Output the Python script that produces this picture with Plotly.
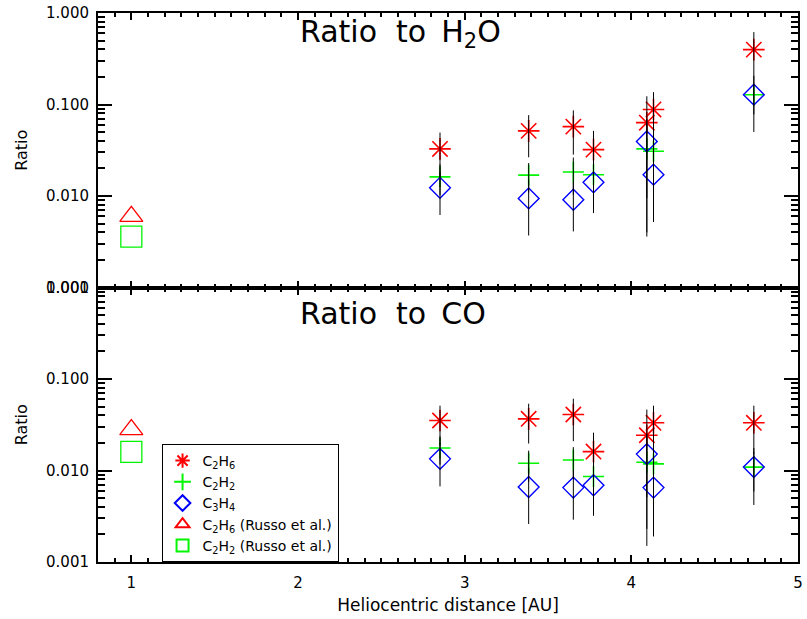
import plotly.graph_objects as go
from plotly.subplots import make_subplots

# ---------------- data ----------------
rh = [2.852, 3.384, 3.652, 3.773, 4.093, 4.133, 4.735]

h2o_c2h6 = [0.0327, 0.0515, 0.0573, 0.0321, 0.0633, 0.0883, 0.398]
h2o_c2h6_err = [0.0167, 0.025, 0.029, 0.0194, 0.0597, 0.048, 0.22]
h2o_c2h2 = [0.0162, 0.0169, 0.0183, 0.0171, 0.0327, 0.0308, 0.128]
h2o_c2h2_err = [0.006, 0.006, 0.008, 0.007, 0.0287, 0.0256, 0.078]
h2o_c3h4 = [0.0123, 0.0094, 0.0091, 0.0141, 0.0395, 0.0171, 0.128]
h2o_c3h4_err = [0.0061, 0.0057, 0.005, 0.0076, 0.03, 0.01, 0.05]

co_c2h6 = [0.0352, 0.0367, 0.0409, 0.0161, 0.0243, 0.0332, 0.0332]
co_c2h6_err = [0.0159, 0.017, 0.02, 0.0098, 0.022, 0.0179, 0.0179]
co_c2h2 = [0.0176, 0.0120, 0.0130, 0.0086, 0.0123, 0.0118, 0.0109]
co_c2h2_err = [0.006, 0.0045, 0.005, 0.0045, 0.0108, 0.0099, 0.0067]
co_c3h4 = [0.0134, 0.0066, 0.0065, 0.0069, 0.0151, 0.0065, 0.0109]
co_c3h4_err = [0.0067, 0.004, 0.0036, 0.0037, 0.01, 0.004, 0.005]

russo_rh = [1.0]
russo_h2o_c2h6 = [0.0060]
russo_h2o_c2h2 = [0.0036]
russo_co_c2h6 = [0.028]
russo_co_c2h2 = [0.016]

y_tickvals = [0.001, 0.01, 0.1, 1.0]
y_ticktext = ["0.001", "0.010", "0.100", "1.000"]
x_tickvals = [1, 2, 3, 4, 5]

panel_titles = ["Ratio\u00a0\u00a0to\u2002H<sub>2</sub>O", "Ratio\u00a0\u00a0to\u2002CO"]
legend_names = ["C<sub>2</sub>H<sub>6</sub>", "C<sub>2</sub>H<sub>2</sub>", "C<sub>3</sub>H<sub>4</sub>",
                "C<sub>2</sub>H<sub>6</sub> (Russo et al.)", "C<sub>2</sub>H<sub>2</sub> (Russo et al.)"]

RED = "rgb(255,0,0)"
GREEN = "rgb(0,245,0)"
BLUE = "rgb(0,0,255)"
FONT = "DejaVu Sans"

fig = make_subplots(rows=2, cols=1, shared_xaxes=True, vertical_spacing=0)

panels = [
    (1, h2o_c2h6, h2o_c2h6_err, h2o_c2h2, h2o_c2h2_err, h2o_c3h4, h2o_c3h4_err, russo_h2o_c2h6, russo_h2o_c2h2),
    (2, co_c2h6, co_c2h6_err, co_c2h2, co_c2h2_err, co_c3h4, co_c3h4_err, russo_co_c2h6, russo_co_c2h2),
]

for row, c2h6, c2h6e, c2h2, c2h2e, c3h4, c3h4e, r6, r2 in panels:
    show = row == 1
    fig.add_trace(go.Scatter(x=russo_rh, y=r6, mode="markers", name=legend_names[3], showlegend=show,
                             legendrank=4,
                             marker=dict(symbol="triangle-up-open", size=20, color=RED,
                                         line=dict(color=RED, width=1.3))), row=row, col=1)
    fig.add_trace(go.Scatter(x=russo_rh, y=r2, mode="markers", name=legend_names[4], showlegend=show,
                             legendrank=5,
                             marker=dict(symbol="square-open", size=21, color=GREEN,
                                         line=dict(color=GREEN, width=1.3))), row=row, col=1)
    fig.add_trace(go.Scatter(x=rh, y=c2h6, mode="markers", name=legend_names[0], showlegend=show,
                             legendrank=1,
                             marker=dict(symbol="asterisk-open", size=18, color=RED,
                                         line=dict(color=RED, width=1.6))), row=row, col=1)
    fig.add_trace(go.Scatter(x=rh, y=c2h2, mode="markers", name=legend_names[1], showlegend=show,
                             legendrank=2,
                             marker=dict(symbol="cross-thin-open", size=15, color=GREEN,
                                         line=dict(color=GREEN, width=1.6))), row=row, col=1)
    fig.add_trace(go.Scatter(x=rh, y=c3h4, mode="markers", name=legend_names[2], showlegend=show,
                             legendrank=3,
                             marker=dict(symbol="diamond-open", size=16, color=BLUE,
                                         line=dict(color=BLUE, width=1.4))), row=row, col=1)
    # error bars drawn on top, in black
    for vals, errs in [(c2h6, c2h6e), (c2h2, c2h2e), (c3h4, c3h4e)]:
        fig.add_trace(go.Scatter(x=rh, y=vals, mode="markers", showlegend=False, hoverinfo="skip",
                                 marker=dict(size=1, color="rgba(0,0,0,0)"),
                                 error_y=dict(type="data", array=errs, visible=True,
                                              color="black", thickness=1, width=0)),
                      row=row, col=1)

axis_common = dict(showline=True, linecolor="black", linewidth=2, mirror="allticks",
                   ticks="inside", tickcolor="black", showgrid=False, zeroline=False,
                   tickfont=dict(family=FONT, size=15, color="black"))

for row in (1, 2):
    fig.update_xaxes(range=[0.8, 5], tickvals=x_tickvals, ticklen=7, tickwidth=2, ticklabelstandoff=6,
                     minor=dict(ticks="inside", dtick=0.1, ticklen=4, tickwidth=1.5, tickcolor="black"),
                     row=row, col=1, **axis_common)
    fig.update_yaxes(type="log", range=[-3, 0], tickvals=y_tickvals, ticktext=y_ticktext,
                     ticklen=14, tickwidth=2, ticklabelstandoff=4,
                     minor=dict(ticks="inside", ticklen=7, tickwidth=1.5, tickcolor="black",
                                tickvals=[m * 10 ** e for e in (-3, -2, -1) for m in range(2, 10)]),
                     title=dict(text="Ratio", font=dict(family=FONT, size=16, color="black"), standoff=14),
                     row=row, col=1, **axis_common)

fig.update_xaxes(showticklabels=False, row=1, col=1)
fig.update_xaxes(title=dict(text="Heliocentric distance [AU]", font=dict(family=FONT, size=17, color="black"),
                            standoff=8), row=2, col=1)

fig.add_annotation(text=panel_titles[0], xref="paper", yref="paper", x=0.285, y=0.9626,
                   xanchor="left", yanchor="middle", showarrow=False,
                   font=dict(family=FONT, size=30, color="black"))
fig.add_annotation(text=panel_titles[1], xref="paper", yref="paper", x=0.285, y=0.452,
                   xanchor="left", yanchor="middle", showarrow=False,
                   font=dict(family=FONT, size=30, color="black"))

fig.update_layout(
    width=807, height=619,
    margin=dict(l=98, r=4, t=6, b=57),
    paper_bgcolor="white", plot_bgcolor="white",
    font=dict(family=FONT, color="black"),
    legend=dict(x=0.0908, y=0, xanchor="left", yanchor="bottom", bgcolor="white",
                bordercolor="black", borderwidth=1, itemsizing="constant",
                font=dict(family=FONT, size=14, color="black"), tracegroupgap=0),
)

fig.write_html("out.html")
